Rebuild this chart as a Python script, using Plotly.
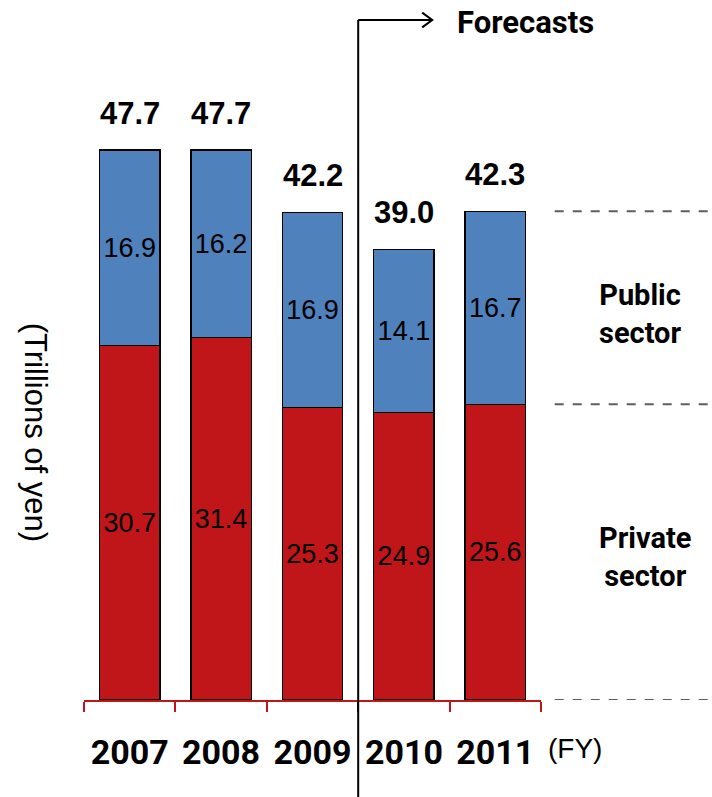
import plotly.graph_objects as go

years = ["2007", "2008", "2009", "2010", "2011"]
private = [30.7, 31.4, 25.3, 24.9, 25.6]
public = [16.9, 16.2, 16.9, 14.1, 16.7]
totals = [47.7, 47.7, 42.2, 39.0, 42.3]

RED = "#C0161A"
BLUE = "#4F81BD"
COND = "Roboto, Liberation Sans, sans-serif"
SANS = "Liberation Sans, Arial, sans-serif"

fig = go.Figure()
for name, vals, color in [("Private sector", private, RED), ("Public sector", public, BLUE)]:
    fig.add_trace(go.Bar(
        x=years, y=vals, name=name,
        marker=dict(color=color, line=dict(color="black", width=1.5)),
        width=0.66,
        text=[f"{v:.1f}" for v in vals],
        textposition="inside", insidetextanchor="middle",
        textfont=dict(family=SANS, size=27, color="black"),
        constraintext="none",
    ))

# totals above each stack (category index positions)
for i, (p, q, t) in enumerate(zip(private, public, totals)):
    fig.add_annotation(xref="x", yref="y", x=i, y=p + q, text=f"{t:.1f}", showarrow=False,
                       xanchor="center", yanchor="bottom", yshift=17,
                       font=dict(family=SANS, size=31, color="black", weight="bold"))

# forecast divider with arrow
fig.add_shape(type="line", xref="x", yref="paper", x0=2.5, x1=2.5, y0=-0.2, y1=1.0625,
              line=dict(color="black", width=2))
fig.add_shape(type="line", xref="x", yref="paper", x0=2.5, x1=3.31, y0=1.0625, y1=1.0625,
              line=dict(color="black", width=2))
fig.add_shape(type="path", xref="x", yref="paper",
              path="M 3.2,1.074 L 3.31,1.0625 L 3.2,1.051",
              line=dict(color="black", width=2))
fig.add_annotation(xref="paper", yref="paper", x=0.965, y=1.059, text="Forecasts",
                   xanchor="center", yanchor="middle", showarrow=False,
                   font=dict(family=COND, size=31, color="black", weight="bold"))

# sector guide lines on the right, at the 2011 segment boundaries
for yv in [0, private[-1], private[-1] + public[-1]]:
    fig.add_shape(type="line", xref="paper", yref="y", x0=1.03, x1=1.38, y0=yv, y1=yv,
                  line=dict(color="#5e5e5e", width=2, dash="dash"))

fig.add_annotation(xref="paper", yref="y", x=1.217, y=private[-1] + public[-1] / 2,
                   yshift=-6, text="Public<br>sector", showarrow=False,
                   xanchor="center", yanchor="middle",
                   font=dict(family=COND, size=29, color="black", weight="bold"))
fig.add_annotation(xref="paper", yref="y", x=1.228, y=private[-1] / 2,
                   yshift=-5, text="Private<br>sector", showarrow=False,
                   xanchor="center", yanchor="middle",
                   font=dict(family=COND, size=29, color="black", weight="bold"))

fig.add_annotation(xref="paper", yref="paper", x=-0.107, y=0.419, text="(Trillions of yen)",
                   textangle=90, showarrow=False, xanchor="center", yanchor="middle",
                   font=dict(family=SANS, size=31, color="black"))
fig.add_annotation(xref="paper", yref="paper", x=1.01, xanchor="left", y=-0.075,
                   yanchor="middle", text="(FY)",
                   showarrow=False, font=dict(family=SANS, size=28, color="black"))

fig.update_layout(
    barmode="stack", width=712, height=797,
    margin=dict(l=84, r=171, t=60, b=97, autoexpand=False),
    plot_bgcolor="white", paper_bgcolor="white",
    showlegend=False,
    xaxis=dict(type="category", range=[-0.5, 4.5], tickson="boundaries",
               ticks="outside", ticklen=10, tickwidth=2, tickcolor=RED,
               showline=True, linecolor=RED, linewidth=2, showgrid=False,
               tickangle=0, automargin=False, ticklabelstandoff=21,
               tickfont=dict(family=COND, size=34, color="black", weight="bold")),
    yaxis=dict(range=[0, 55.4], visible=False, showgrid=False, automargin=False),
)

fig.write_html("out.html")
